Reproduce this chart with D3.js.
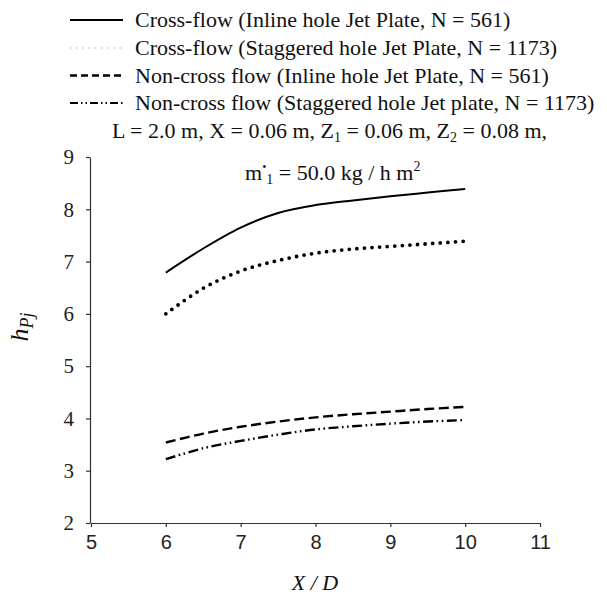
<!DOCTYPE html>
<html>
<head>
<meta charset="utf-8">
<script src="https://cdn.jsdelivr.net/npm/d3@7"></script>
<style>
  body { margin: 0; background: #fff; }
  svg { display: block; }
  .serif { font-family: "Liberation Serif", "Times New Roman", serif; }
</style>
</head>
<body>
<svg id="chart" width="607" height="597"></svg>
<script>
// x positions (X / D)
var xd = [6, 6.5, 7, 7.5, 8, 8.5, 9, 9.5, 10];

// h_Pj values
var crossInline    = [6.79, 7.25, 7.65, 7.93, 8.08, 8.17, 8.25, 8.32, 8.39];
var crossStagger   = [6.00, 6.49, 6.82, 7.02, 7.16, 7.24, 7.29, 7.34, 7.39];
var nonCrossInline = [3.54, 3.71, 3.84, 3.94, 4.02, 4.08, 4.13, 4.18, 4.22];
var nonCrossStagger= [3.22, 3.43, 3.57, 3.69, 3.79, 3.85, 3.90, 3.94, 3.97];

var xTicks = [5, 6, 7, 8, 9, 10, 11];
var yTicks = [2, 3, 4, 5, 6, 7, 8, 9];

var legendLabels = [
  'Cross-flow (Inline hole Jet Plate, N = 561)',
  'Cross-flow (Staggered hole Jet Plate, N = 1173)',
  'Non-cross flow (Inline hole Jet Plate, N = 561)',
  'Non-cross flow (Staggered hole Jet plate, N = 1173)'
];

var series = [
  { values: crossInline,     dash: null,                 width: 2 },
  { values: crossStagger,    dash: '0 7.6',              width: 3.8, round: true },
  { values: nonCrossInline,  dash: '10 4.5',             width: 2.4 },
  { values: nonCrossStagger, dash: '10 3.5 1.6 3.5 1.6 3.5', width: 2.4 }
];

var svg = d3.select('#chart');

var x = d3.scaleLinear().domain([5, 11]).range([91, 540]);
var y = d3.scaleLinear().domain([2, 9]).range([523, 157]);

// axes
var xAxis = svg.append('g')
  .attr('transform', 'translate(0,523)')
  .call(d3.axisBottom(x).tickValues(xTicks).tickFormat(d3.format('d'))
    .tickSize(4).tickSizeOuter(0).tickPadding(8));
xAxis.selectAll('text')
  .style('font-family', '"Liberation Sans", Arial, sans-serif')
  .style('font-size', '20px')
  .attr('fill', '#222');

var yAxis = svg.append('g')
  .attr('transform', 'translate(90,0)')
  .call(d3.axisLeft(y).tickValues(yTicks).tickFormat(d3.format('d'))
    .tickSize(4).tickSizeOuter(0).tickPadding(12));
yAxis.selectAll('text')
  .attr('class', 'serif')
  .style('font-size', '21px')
  .attr('fill', '#222');

svg.selectAll('.domain, .tick line').attr('stroke', '#333').attr('stroke-width', 1.2);

// curves
var line = d3.line()
  .x(function(d, i){ return x(xd[i]); })
  .y(function(d){ return y(d); })
  .curve(d3.curveCatmullRom);

series.forEach(function(s) {
  svg.append('path')
    .attr('d', line(s.values))
    .attr('fill', 'none')
    .attr('stroke', '#000')
    .attr('stroke-width', s.width)
    .attr('stroke-linecap', s.round ? 'round' : 'butt')
    .attr('stroke-dasharray', s.dash);
});

// legend
var legend = svg.append('g').attr('class', 'serif');
var rowY = [27, 55, 82.5, 110];
var legendStyle = [
  { dash: null,                     width: 2,   color: '#000' },
  { dash: '1.2 5',                  width: 1.2, color: '#999' },
  { dash: '7 4',                    width: 2.4, color: '#000' },
  { dash: '8 3 1.5 3 1.5 3',        width: 2,   color: '#000' }
];
legendLabels.forEach(function(t, i) {
  legend.append('line')
    .attr('x1', 70).attr('x2', 123)
    .attr('y1', rowY[i] - 7).attr('y2', rowY[i] - 7)
    .attr('stroke', legendStyle[i].color)
    .attr('stroke-width', legendStyle[i].width)
    .attr('stroke-dasharray', legendStyle[i].dash);
  legend.append('text')
    .attr('x', 135).attr('y', rowY[i])
    .style('font-size', '22px')
    .attr('fill', '#111')
    .text(t);
});

// parameters line
var p = legend.append('text')
  .attr('x', 112).attr('y', 137.5)
  .style('font-size', '22px')
  .attr('fill', '#111');
p.append('tspan').text('L = 2.0 m, X = 0.06 m, Z');
p.append('tspan').attr('dy', 4).style('font-size', '14px').text('1');
p.append('tspan').attr('dy', -4).text(' = 0.06 m, Z');
p.append('tspan').attr('dy', 4).style('font-size', '14px').text('2');
p.append('tspan').attr('dy', -4).text(' = 0.08 m,');

var m = svg.append('text')
  .attr('class', 'serif')
  .attr('x', 245).attr('y', 180)
  .style('font-size', '22px')
  .attr('fill', '#111');
m.append('tspan').text('m');
m.append('tspan').attr('dy', -9).style('font-size', '12px').text('•');
m.append('tspan').attr('dy', 13).style('font-size', '14px').text('1');
m.append('tspan').attr('dy', -4).text(' = 50.0 kg / h m');
m.append('tspan').attr('dy', -9).style('font-size', '14px').text('2');

// axis titles
svg.append('text')
  .attr('class', 'serif')
  .attr('x', 315).attr('y', 590)
  .attr('text-anchor', 'middle')
  .style('font-size', '22px')
  .style('font-style', 'italic')
  .attr('fill', '#111')
  .text('X / D');

var yl = svg.append('text')
  .attr('class', 'serif')
  .attr('transform', 'translate(28,327) rotate(-90)')
  .attr('text-anchor', 'middle')
  .style('font-size', '26px')
  .style('font-style', 'italic')
  .attr('fill', '#111');
yl.append('tspan').text('h');
yl.append('tspan').attr('dy', 5).style('font-size', '18px').text('Pj');
</script>
</body>
</html>
